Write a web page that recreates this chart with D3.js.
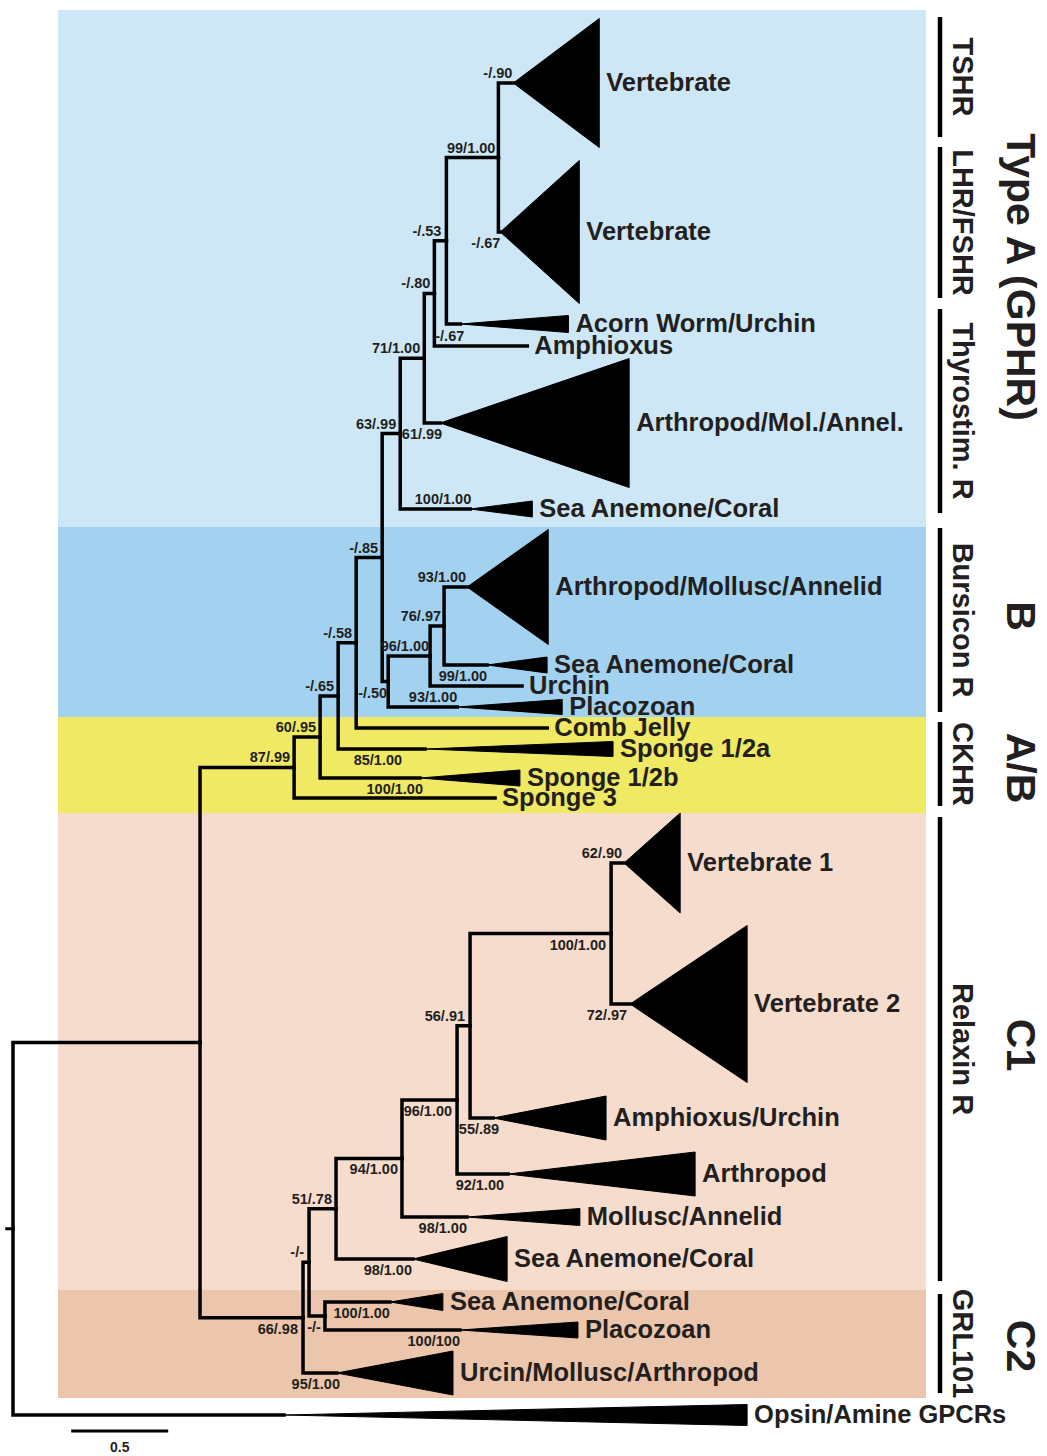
<!DOCTYPE html>
<html>
<head>
<meta charset="utf-8">
<script src="https://cdn.jsdelivr.net/npm/d3@7"></script>
<style>
  body { margin: 0; background: #fff; }
  text { font-family: "Liberation Sans", Arial, Helvetica, sans-serif; font-weight: bold; fill: #231f20; }
</style>
</head>
<body>
<svg id="chart" width="1047" height="1456"></svg>
<script>
// tree: node id, parent id, branch length (subst./site), support (ML bootstrap / posterior)
const nodeIds = ["root", "ingroup", "opsin", "A", "C",
  "n6095", "sponge3", "n65", "sponge12b", "n58", "sponge12a", "n85", "comb",
  "n6399", "n50", "n71", "anemA", "n80", "arthA", "n53", "amphA", "n99", "acorn",
  "vertT", "vertL", "n96b", "placoB", "n7697", "urchB", "arthB", "anemB",
  "nC1", "urcin", "n5178", "nC2", "anemC2", "placoC2", "n94", "anemC1",
  "n96c", "mollC1", "n56", "arthC1", "n100", "amphU", "vert1", "vert2"];
const parentIds = [null, "root", "root", "ingroup", "ingroup",
  "A", "A", "n6095", "n6095", "n65", "n65", "n58", "n58",
  "n85", "n85", "n6399", "n6399", "n71", "n71", "n80", "n80", "n53", "n53",
  "n99", "n99", "n50", "n50", "n96b", "n96b", "n7697", "n7697",
  "C", "C", "nC1", "nC1", "nC2", "nC2", "n5178", "n5178",
  "n94", "n94", "n96c", "n96c", "n56", "n56", "n100", "n100"];
const branchLengths = [0, 0.964, 1.397, 0.485, 0.531,
  0.134, 1.036, 0.093, 0.515, 0.093, 0.448, 0.134, 0.985,
  0.093, 0.031, 0.124, 0.361, 0.052, 0.082, 0.062, 0.479, 0.268, 0.072,
  0.077, 0.010, 0.216, 0.356, 0.072, 0.474, 0.119, 0.222,
  0.031, 0.175, 0.139, 0.082, 0.335, 0.696, 0.340, 0.397,
  0.284, 0.335, 0.067, 0.263, 0.727, 0.119, 0.067, 0.098];
const supports = ["", "", "", "87/.99", "66/.98",
  "60/.95", "", "-/.65", "100/1.00", "-/.58", "85/1.00", "-/.85", "",
  "63/.99", "-/.50", "71/1.00", "100/1.00", "-/.80", "61/.99", "-/.53", "-/.67", "99/1.00", "",
  "-/.90", "-/.67", "96/1.00", "93/1.00", "76/.97", "", "93/1.00", "99/1.00",
  "-/-", "95/1.00", "51/.78", "-/-", "100/1.00", "100/100", "94/1.00", "98/1.00",
  "96/1.00", "98/1.00", "56/.91", "92/1.00", "100/1.00", "55/.89", "62/.90", "72/.97"];

// tips and collapsed clades
const tipIds = ["vertT", "vertL", "acorn", "amphA", "arthA", "anemA", "arthB", "anemB", "urchB",
  "placoB", "comb", "sponge12a", "sponge12b", "sponge3", "vert1", "vert2", "amphU", "arthC1",
  "mollC1", "anemC1", "anemC2", "placoC2", "urcin", "opsin"];
const tipNames = ["Vertebrate", "Vertebrate", "Acorn Worm/Urchin", "Amphioxus", "Arthropod/Mol./Annel.",
  "Sea Anemone/Coral", "Arthropod/Mollusc/Annelid", "Sea Anemone/Coral", "Urchin",
  "Placozoan", "Comb Jelly", "Sponge 1/2a", "Sponge 1/2b", "Sponge 3", "Vertebrate 1", "Vertebrate 2",
  "Amphioxus/Urchin", "Arthropod", "Mollusc/Annelid", "Sea Anemone/Coral", "Sea Anemone/Coral",
  "Placozoan", "Urcin/Mollusc/Arthropod", "Opsin/Amine GPCRs"];
const tipRows = [83, 232, 324, 346, 423, 509, 587, 665, 686,
  707, 728, 749, 778, 798, 863, 1004, 1118, 1174,
  1217, 1259, 1302, 1330, 1373, 1415];
const cladeDepths = [0.443, 0.407, 0.557, 0, 0.974, 0.320, 0.418, 0.309, 0,
  0.541, 0, 0.969, 0.515, 0, 0.289, 0.603, 0.582, 0.964,
  0.582, 0.485, 0.273, 0.608, 0.598, 2.387];
const cladeSpreads = [64.5, 71.5, 8.5, 0, 64.5, 8, 57.5, 8, 0,
  7.5, 0, 7.5, 8, 0, 50, 78.5, 22, 22,
  8.5, 22.5, 8.5, 8, 22, 10.5];

// shaded receptor types and brackets on the right
const panelNames = ["Type A (GPHR)", "B", "A/B", "C1", "C2"];
const panelTops = [10, 527, 717, 813, 1290];
const panelBottoms = [527, 717, 813, 1290, 1398];
const panelLabelRows = [277, 616, 768, 1045, 1346];
const bracketNames = ["TSHR", "LHR/FSHR", "Thyrostim. R", "Bursicon R", "CKHR", "Relaxin R", "GRL101"];
const bracketTops = [17, 147, 309, 528, 722, 817, 1294];
const bracketBottoms = [137, 298, 513, 712, 806, 1281, 1393];

const panelColors = ["#cde7f7", "#a2d2f0", "#f0e964", "#f5dccd", "#ebc6ac"];

// support label placement: [dx from branch end, above/below]
const labelPos = {
  vertT: [-1, "a"], n99: [-3, "a"], n53: [-5, "a"], n80: [-4, "a"], n71: [-4, "a"],
  n6399: [-4, "a"], n85: [-4, "a"], n58: [-4, "a"], n65: [-4, "a"], n6095: [-4, "a"], A: [-4, "a"],
  vertL: [0, "b"], amphA: [-63, "a"], arthA: [2, "b"], anemA: [1, "a"], arthB: [-1, "a"],
  n7697: [-3, "a"], n96b: [-1, "a"], anemB: [0, "b"], n50: [-1, "b"], placoB: [0, "a"],
  sponge12a: [-23, "b"], sponge12b: [3, "b"],
  vert1: [-2, "a"], n100: [-5, "b"], vert2: [-3, "b"], n56: [-5, "a"], amphU: [6, "b"],
  n96c: [-5, "b"], arthC1: [-4, "b"], n94: [-4, "b"], n5178: [-4, "a"], mollC1: [0, "b"],
  anemC1: [-1, "b"], nC1: [-5, "a"], anemC2: [0, "b"], nC2: [-4, "b"], placoC2: [0, "b"],
  C: [-5, "b"], urcin: [3, "b"]
};

const svg = d3.select("#chart");

const xScale = d3.scaleLinear().domain([0, 0.5]).range([13, 110]);
const yScale = d3.scaleLinear().domain([0, 1456]).range([0, 1456]);

const table = nodeIds.map((id, i) => ({ id: id, parent: parentIds[i], length: branchLengths[i], support: supports[i] }));
const root = d3.stratify().id(d => d.id).parentId(d => d.parent)(table);

const tipIndex = new Map(tipIds.map((id, i) => [id, i]));

// cumulative distance from root
root.eachBefore(n => { n.len = n.parent ? n.parent.len + n.data.length : 0; });
// vertical: tips from data, internal nodes halfway between first and last child
root.eachAfter(n => {
  if (n.children) {
    n.row = (n.children[0].row + n.children[n.children.length - 1].row) / 2;
  } else {
    const i = tipIndex.get(n.id);
    n.row = tipRows[i];
    n.clade = cladeDepths[i];
    n.spread = cladeSpreads[i];
    n.name = tipNames[i];
  }
});

// background panels
svg.append("g").selectAll("rect")
  .data(panelNames)
  .join("rect")
  .attr("x", 58)
  .attr("width", 926 - 58)
  .attr("y", (d, i) => yScale(panelTops[i]))
  .attr("height", (d, i) => yScale(panelBottoms[i]) - yScale(panelTops[i]))
  .attr("fill", (d, i) => panelColors[i]);

// branches
svg.append("g")
  .attr("fill", "none")
  .attr("stroke", "#000")
  .attr("stroke-width", 3.5)
  .attr("stroke-linecap", "square")
  .selectAll("path")
  .data(root.descendants().filter(n => n.parent))
  .join("path")
  .attr("d", n => `M${xScale(n.parent.len)},${yScale(n.parent.row)}V${yScale(n.row)}H${xScale(n.len)}`);

// small stub at the root
svg.append("line")
  .attr("x1", xScale(-0.04)).attr("x2", xScale(0))
  .attr("y1", yScale(root.row)).attr("y2", yScale(root.row))
  .attr("stroke", "#000").attr("stroke-width", 3);

// collapsed clades as triangles
const leaves = root.leaves();
svg.append("g").selectAll("path")
  .data(leaves.filter(n => n.clade > 0))
  .join("path")
  .attr("fill", "#000")
  .attr("stroke", "#000")
  .attr("stroke-width", 1)
  .attr("d", n => {
    const x0 = xScale(n.len), x1 = xScale(n.len + n.clade);
    const y = yScale(n.row), h = yScale(n.row + n.spread) - y;
    return `M${x0},${y}L${x1},${y - h}L${x1},${y + h}Z`;
  });

// tip names
svg.append("g").selectAll("text")
  .data(leaves)
  .join("text")
  .attr("x", n => xScale(n.len + n.clade) + 7)
  .attr("y", n => yScale(n.row))
  .attr("dy", "0.33em")
  .style("font-size", "25.5px")
  .text(n => n.name);

// support values
svg.append("g").selectAll("text")
  .data(root.descendants().filter(n => n.data.support))
  .join("text")
  .attr("x", n => xScale(n.len) + (labelPos[n.id] || [-4])[0])
  .attr("y", n => yScale(n.row) + ((labelPos[n.id] || [0, "a"])[1] === "a" ? -5 : 16))
  .attr("text-anchor", "end")
  .style("font-size", "14.5px")
  .text(n => n.data.support);

// brackets and group names on the right
svg.append("g").selectAll("line")
  .data(bracketNames)
  .join("line")
  .attr("x1", 940).attr("x2", 940)
  .attr("y1", (d, i) => yScale(bracketTops[i]))
  .attr("y2", (d, i) => yScale(bracketBottoms[i]))
  .attr("stroke", "#000")
  .attr("stroke-width", 4.5);

svg.append("g").selectAll("text")
  .data(bracketNames)
  .join("text")
  .attr("text-anchor", "middle")
  .attr("transform", (d, i) => `translate(953,${yScale((bracketTops[i] + bracketBottoms[i]) / 2)}) rotate(90)`)
  .style("font-size", "29px")
  .text(d => d);

svg.append("g").selectAll("text")
  .data(panelNames)
  .join("text")
  .attr("text-anchor", "middle")
  .attr("transform", (d, i) => `translate(1007,${yScale(panelLabelRows[i])}) rotate(90)`)
  .style("font-size", "41px")
  .text(d => d);

// scale bar
svg.append("line")
  .attr("x1", xScale(0.3)).attr("x2", xScale(0.8))
  .attr("y1", 1431).attr("y2", 1431)
  .attr("stroke", "#000").attr("stroke-width", 3);
svg.append("text")
  .attr("x", (xScale(0.3) + xScale(0.8)) / 2)
  .attr("y", 1452)
  .attr("text-anchor", "middle")
  .style("font-size", "14px")
  .text("0.5");
</script>
</body>
</html>
